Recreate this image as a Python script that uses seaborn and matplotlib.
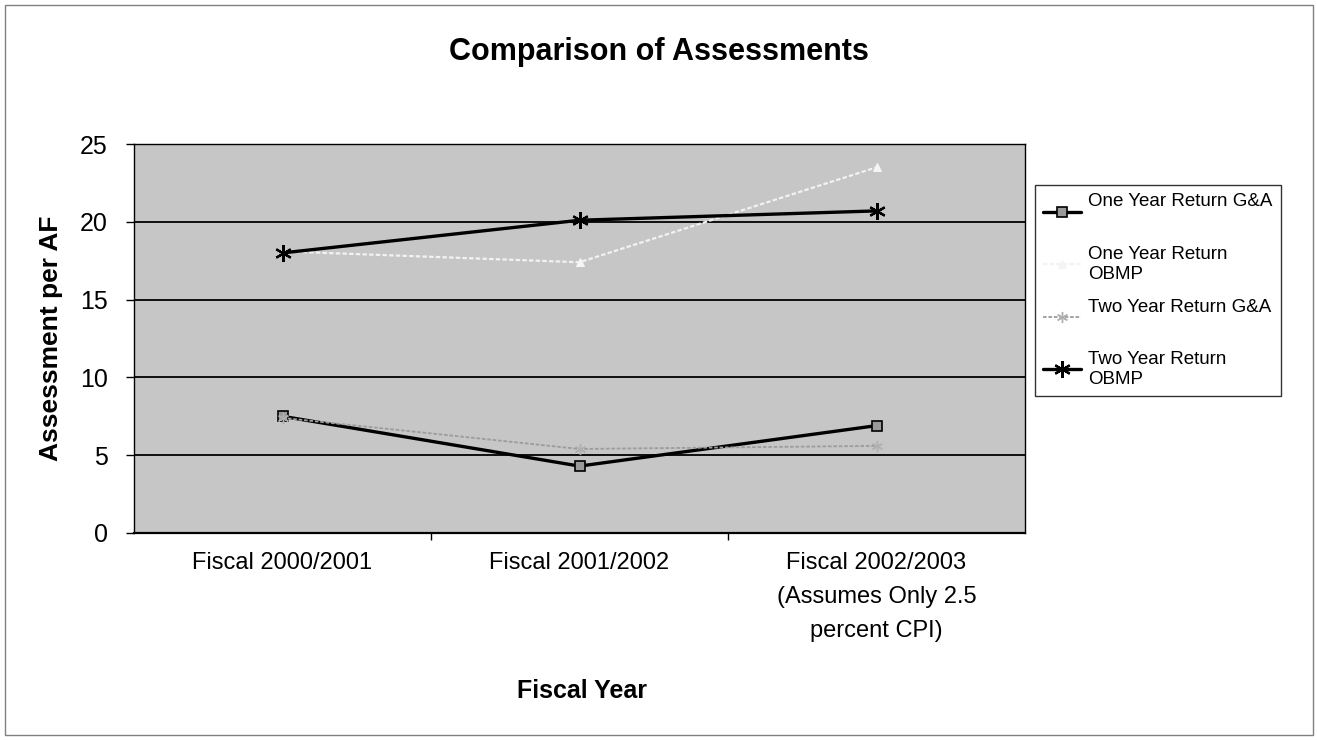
import matplotlib
matplotlib.use("Agg")
import matplotlib.pyplot as plt
import seaborn as sns
import pandas as pd
from matplotlib.patches import Rectangle

# data
years = ["Fiscal 2000/2001", "Fiscal 2001/2002",
         "Fiscal 2002/2003\n(Assumes Only 2.5\npercent CPI)"]
one_year_ga = [7.5, 4.3, 6.9]
one_year_obmp = [18.1, 17.4, 23.5]
two_year_ga = [7.4, 5.4, 5.6]
two_year_obmp = [18.0, 20.1, 20.7]
series_names = ["One Year Return G&A", "One Year Return\nOBMP",
                "Two Year Return G&A", "Two Year Return\nOBMP"]

sns.set_theme(style="white")
plt.rcParams['font.family'] = ['Liberation Sans', 'DejaVu Sans']
for k in ['text.color', 'axes.labelcolor', 'xtick.color', 'ytick.color']:
    plt.rcParams[k] = 'black'

fig = plt.figure(figsize=(13.17, 7.40), dpi=100)
fig.patch.set_facecolor('white')
ax = fig.add_axes([134 / 1317, 1 - 533 / 740, 891 / 1317, 389 / 740])
ax.set_facecolor('#c6c6c6')

x = list(range(len(years)))
styles = [
    dict(color='black', linewidth=2.4, marker='s', markersize=7,
         markerfacecolor='#9a9a9a', markeredgecolor='black', markeredgewidth=1.2),
    dict(color='#f2f2f2', linewidth=1.6, linestyle=(0, (2, 1)), marker='^', markersize=6,
         markerfacecolor='#f5f5f5', markeredgecolor='#f5f5f5'),
    dict(color='#9c9c9c', linewidth=1.3, linestyle=(0, (2, 1)), marker=(6, 2, 0), markersize=8,
         markeredgecolor='#b0b0b0', markeredgewidth=1.0),
    dict(color='black', linewidth=2.4, marker=(6, 2, 0), markersize=12,
         markeredgecolor='black', markeredgewidth=1.6),
]
values = [one_year_ga, one_year_obmp, two_year_ga, two_year_obmp]

for name, vals, st in zip(series_names, values, styles):
    df = pd.DataFrame({'x': x, 'y': vals})
    sns.lineplot(data=df, x='x', y='y', ax=ax, label=name, sort=False, zorder=3, **st)

ax.set_xlim(-0.5, 2.5)
ax.set_ylim(0, 25)
ax.set_yticks([0, 5, 10, 15, 20, 25])
ax.set_xticks(x)
ax.set_xticklabels(years, fontsize=17, linespacing=1.7)
ax.set_xticks([0.5, 1.5], minor=True)
ax.tick_params(axis='x', which='major', length=0, pad=14)
ax.tick_params(axis='x', which='minor', length=5, width=1, direction='out', bottom=True, color='black')
ax.tick_params(axis='y', which='major', length=6, width=1, direction='out', left=True,
               labelsize=18, pad=13, color='black')

for yv in [5, 10, 15, 20]:
    ax.axhline(yv, color='black', linewidth=1.3, zorder=1)

for side in ['top', 'right', 'left']:
    ax.spines[side].set_color('black')
    ax.spines[side].set_linewidth(1.0)
ax.spines['bottom'].set_color('black')
ax.spines['bottom'].set_linewidth(1.6)

ax.set_ylabel("Assessment per AF", fontsize=19, fontweight='bold', labelpad=12)
ax.set_xlabel("Fiscal Year", fontsize=18, fontweight='bold')
ax.xaxis.set_label_coords(0.503, -0.405)
ax.xaxis.label.set_va('center')

fig.text(0.5004, 1 - 52 / 740, "Comparison of Assessments", ha='center', va='center',
         fontsize=22, fontweight='bold')

# legend on the right, outside the plot
handles, labels = ax.get_legend_handles_labels()
ax.get_legend().remove()
labels = [l if '\n' in l else l + '\n' for l in labels]
leg = fig.legend(handles, labels, loc='upper left', bbox_to_anchor=(1035 / 1317, 1 - 185 / 740),
                 fontsize=13.5, frameon=True, fancybox=False, edgecolor='black',
                 handlelength=2.0, handletextpad=0.4, labelspacing=0.85, borderpad=0.45,
                 borderaxespad=0)
leg.get_frame().set_linewidth(1.0)

# thin frame around whole chart
fig.patches.append(Rectangle((5 / 1317, 5 / 740), 1308 / 1317, 730 / 740, transform=fig.transFigure,
                             fill=False, edgecolor='#808080', linewidth=1.0))

fig.savefig('out.png', dpi=100)
